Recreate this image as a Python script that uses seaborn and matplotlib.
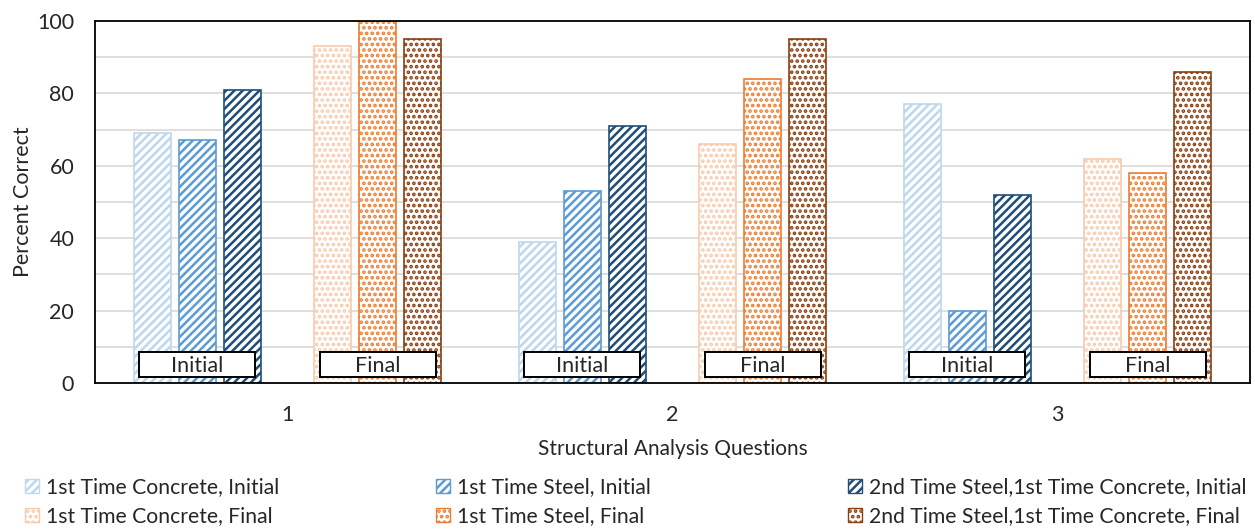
import numpy as np
import pandas as pd
import matplotlib
matplotlib.use("Agg")
import matplotlib.pyplot as plt
import matplotlib.colors as mcolors
from matplotlib.patches import Patch, Rectangle
import seaborn as sns

# ---- data -------------------------------------------------------------
questions = ["1", "2", "3"]
series_names = [
    "1st Time Concrete, Initial",
    "1st Time Steel, Initial",
    "2nd Time Steel,1st Time Concrete, Initial",
    "1st Time Concrete, Final",
    "1st Time Steel, Final",
    "2nd Time Steel,1st Time Concrete, Final",
]
concrete_initial = [69, 39, 77]
steel_initial = [67, 53, 20]
second_initial = [81, 71, 52]
concrete_final = [93, 66, 62]
steel_final = [100, 84, 58]
second_final = [95, 95, 86]
phase_labels = ["Initial", "Final"]
y_ticks = [0, 20, 40, 60, 80, 100]

values = [concrete_initial, steel_initial, second_initial,
          concrete_final, steel_final, second_final]

# ---- styling ----------------------------------------------------------
colors = ["#BDD7EE", "#5B9BD5", "#1F4E79", "#F8CBAD", "#ED7D31", "#8B3E0F"]
hatches = ["////", "////", "////", "...", "...", "..."]
spacer = " "  # empty slot between the initial and final groups

sns.set_theme(style="white")
plt.rcParams["font.family"] = ["Lato", "DejaVu Sans"]
plt.rcParams["hatch.linewidth"] = 1.8

rows = []
for name, vals in zip(series_names, values):
    for q, v in zip(questions, vals):
        rows.append({"question": q, "series": name, "percent": v})
df = pd.DataFrame(rows)

hue_order = series_names[:3] + [spacer] + series_names[3:]
palette = dict(zip(series_names, colors))
palette[spacer] = "#000000"

fig = plt.figure(figsize=(12.55, 5.29), dpi=100)
ax = fig.add_axes([95 / 1255, 1 - 383 / 529, 1155 / 1255, 362 / 529])

group_width = 0.82
sns.barplot(data=df, x="question", y="percent", hue="series",
            hue_order=hue_order, order=questions, palette=palette,
            width=group_width, gap=0.18, saturation=1, errorbar=None,
            legend=False, ax=ax, zorder=2)

# turn solid fills into pattern fills
color_lookup = {mcolors.to_hex(c): (c, h) for c, h in zip(colors, hatches)}
for p in ax.patches:
    key = mcolors.to_hex(p.get_facecolor())
    if key not in color_lookup:
        continue
    col, h = color_lookup[key]
    p.set_facecolor("white")
    p.set_edgecolor(col)
    p.set_linewidth(1.2)
    p.set_hatch(h)

# phase tags inside each group
slot = group_width / len(hue_order)
def slot_center(k):
    return -group_width / 2 + slot * (k + 0.5)

box_w, box_h, box_y = 0.302, 6.9, 5.0
for i in range(len(questions)):
    for label, k in zip(phase_labels, [1, 5]):
        cx = i + slot_center(k)
        ax.add_patch(Rectangle((cx - box_w / 2, box_y - box_h / 2), box_w, box_h,
                               facecolor="white", edgecolor="black", lw=1.4, zorder=5))
        ax.text(cx, box_y - 0.2, label, ha="center", va="center", fontsize=15.5,
                color="#262626", zorder=6)

# axes
ax.set_xlim(-0.5, len(questions) - 0.5)
ax.set_ylim(0, 100)
ax.set_yticks(y_ticks)
ax.set_yticks(np.arange(10, 100, 20), minor=True)
ax.grid(True, axis="y", which="both", color="#D9D9D9", lw=1.2, zorder=0)
ax.set_axisbelow(True)
ax.tick_params(axis="y", which="both", length=0, pad=15, labelsize=15.5, labelcolor="#262626")
ax.tick_params(axis="x", length=0, pad=16, labelsize=15.5, labelcolor="#262626")
for s in ax.spines.values():
    s.set_color("black")
    s.set_linewidth(1.3)
    s.set_visible(True)

ax.set_ylabel("Percent Correct", fontsize=15.5, color="#262626")
ax.set_xlabel("Structural Analysis Questions", fontsize=15, color="#262626")
ax.yaxis.set_label_coords(-0.054, 0.5)
ax.xaxis.set_label_coords(0.5, -0.154)

# legends: one per pair of series, laid out in three columns
legend_x = [25, 436, 848]
for j, x0 in enumerate(legend_x):
    handles = [Patch(facecolor="white", edgecolor=colors[j + off], hatch=hatches[j + off], lw=1.0)
               for off in (0, 3)]
    labels = [series_names[j], series_names[j + 3]]
    fig.legend(handles, labels, loc="upper left",
               bbox_to_anchor=(x0 / 1255, 1 - 477 / 529),
               frameon=False, fontsize=15.2, handlelength=0.65, handleheight=0.65,
               handletextpad=0.35, labelspacing=0.45, borderpad=0, borderaxespad=0,
               labelcolor="#262626")

fig.savefig("out.png", dpi=100, facecolor="white")
